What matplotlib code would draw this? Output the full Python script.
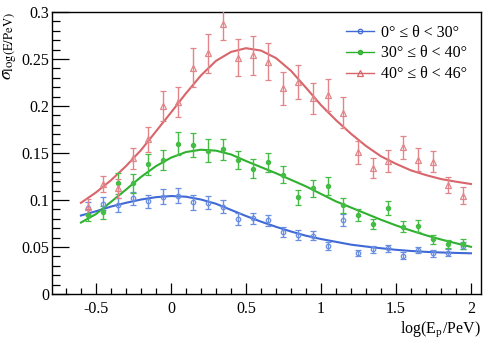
import numpy as np
import matplotlib
matplotlib.use("Agg")
import matplotlib.pyplot as plt
from matplotlib.ticker import MultipleLocator, FixedLocator

plt.rcParams['font.family'] = ['Liberation Serif', 'DejaVu Serif']
plt.rcParams['mathtext.fontset'] = 'stix'
plt.rcParams['axes.unicode_minus'] = False

# ---- data ----
x_pts = [-0.55, -0.45, -0.35, -0.25, -0.15, -0.05, 0.05, 0.15, 0.25, 0.35,
         0.45, 0.55, 0.65, 0.75, 0.85, 0.95, 1.05, 1.15, 1.25, 1.35,
         1.45, 1.55, 1.65, 1.75, 1.85, 1.95]

blue_y = [0.091, 0.096, 0.0947, 0.102, 0.0985, 0.1035, 0.1043, 0.0975, 0.0972, 0.093,
          0.0798, 0.0805, 0.0783, 0.066, 0.0626, 0.0622, 0.0514, 0.0787, 0.0433, 0.0475,
          0.0486, 0.0408, 0.0468, 0.0433, 0.044, 0.0514]
blue_err = [0.007, 0.007, 0.007, 0.007, 0.007, 0.008, 0.008, 0.008, 0.007, 0.007,
            0.006, 0.006, 0.006, 0.0053, 0.005, 0.005, 0.0044, 0.0062, 0.003, 0.0035,
            0.0035, 0.0035, 0.0035, 0.0035, 0.0035, 0.0035]

green_y = [0.084, 0.0869, 0.1177, 0.1177, 0.138, 0.1426, 0.160, 0.1585, 0.1525, 0.154,
           0.1426, 0.1333, 0.140, 0.127, 0.1028, 0.1124, 0.1149, 0.0943, 0.084, 0.0745,
           0.0918, 0.0716, 0.0723, 0.0582, 0.0532, 0.0532]
green_err = [0.006, 0.007, 0.011, 0.0098, 0.011, 0.0106, 0.0124, 0.0128, 0.012, 0.011,
             0.010, 0.010, 0.010, 0.009, 0.0083, 0.009, 0.0094, 0.0076, 0.0067, 0.0055,
             0.0075, 0.006, 0.006, 0.0048, 0.0045, 0.005]

red_y = [0.093, 0.117, 0.1124, 0.1443, 0.1645, 0.2004, 0.2046, 0.2408, 0.256, 0.287,
         0.2514, 0.254, 0.247, 0.2188, 0.2259, 0.208, 0.2117, 0.193, 0.1507, 0.1337,
         0.1415, 0.156, 0.143, 0.1408, 0.116, 0.1046]
red_err = [0.008, 0.009, 0.010, 0.0115, 0.013, 0.016, 0.016, 0.021, 0.021, 0.017,
           0.0197, 0.0207, 0.0195, 0.0174, 0.018, 0.016, 0.017, 0.0165, 0.0124, 0.0106,
           0.012, 0.012, 0.012, 0.0115, 0.009, 0.009]

# fit curves
x_fit = [-0.6, -0.5, -0.4, -0.3, -0.2, -0.1, 0.0, 0.1, 0.2, 0.3, 0.4, 0.5, 0.6,
         0.7, 0.8, 0.9, 1.0, 1.1, 1.2, 1.3, 1.4, 1.5, 1.6, 1.7, 1.8, 1.9, 2.0]
blue_fit = [0.0835, 0.088, 0.093, 0.097, 0.1005, 0.103, 0.1042, 0.1035, 0.1005, 0.096,
            0.0895, 0.083, 0.077, 0.0715, 0.0665, 0.062, 0.0585, 0.0555, 0.0525, 0.0505,
            0.0487, 0.047, 0.0458, 0.0448, 0.0442, 0.0437, 0.0433]
green_fit = [0.076, 0.085, 0.098, 0.111, 0.1245, 0.136, 0.145, 0.151, 0.1535, 0.1525,
             0.1485, 0.1415, 0.135, 0.1285, 0.1215, 0.1145, 0.1065, 0.0985, 0.092, 0.0855,
             0.079, 0.073, 0.0675, 0.0625, 0.058, 0.054, 0.0502]
red_fit = [0.097, 0.108, 0.121, 0.136, 0.153, 0.173, 0.193, 0.2135, 0.2325, 0.248,
           0.2575, 0.2615, 0.259, 0.251, 0.2375, 0.2195, 0.201, 0.185, 0.1705, 0.1575,
           0.1465, 0.1385, 0.1315, 0.1265, 0.1223, 0.1195, 0.117]

labels = ['0° ≤ θ < 30°', '30° ≤ θ < 40°', '40° ≤ θ < 46°']
x_ticks = [-0.5, 0, 0.5, 1, 1.5, 2]
x_ticklabels = ['-0.5', '0', '0.5', '1', '1.5', '2']
y_ticks = [0, 0.05, 0.1, 0.15, 0.2, 0.25, 0.3]
y_ticklabels = ['0', '0.05', '0.1', '0.15', '0.2', '0.25', '0.3']

# ---- plot ----
fig = plt.figure(figsize=(4.98, 3.38), dpi=100)
ax = fig.add_axes([52/498, 44/338, (481-52)/498, (294-12)/338])

series = [
    (blue_y, blue_err, blue_fit, '#3f69d6', '#6a8ee0', 'o', 'none', 3.2),
    (green_y, green_err, green_fit, '#2fb12f', '#45bd45', 'o', 'full', 3.0),
    (red_y, red_err, red_fit, '#d8656a', '#e2858a', '^', 'none', 4.0),
]

handles = []
for (yv, ev, fv, lc, pc, mk, fill, ms), lab in zip(series, labels):
    ax.plot(x_fit, fv, color=lc, lw=1.5, zorder=3)
    mfc = 'none' if fill == 'none' else pc
    ax.errorbar(x_pts, yv, yerr=ev, fmt=mk, ms=ms, mfc=mfc, mec=pc, mew=0.9,
                ecolor=pc, elinewidth=1.0, capsize=2.0, capthick=1.0, zorder=4)
    h, = ax.plot([], [], color=lc, lw=1.0, marker=mk, ms=ms, mfc=mfc, mec=lc, mew=0.9)
    handles.append(h)

ax.set_xlim(-0.793, 2.067)
ax.set_ylim(0, 0.3)
ax.xaxis.set_major_locator(FixedLocator(x_ticks))
ax.set_xticklabels(x_ticklabels)
ax.yaxis.set_major_locator(FixedLocator(y_ticks))
ax.set_yticklabels(y_ticklabels)
ax.xaxis.set_minor_locator(MultipleLocator(0.1))
ax.yaxis.set_minor_locator(MultipleLocator(0.01))
ax.tick_params(axis='both', which='both', direction='in', top=False, right=False,
               labelsize=11.5, width=0.9, color='black')
ax.tick_params(axis='x', which='major', length=8, pad=5)
ax.tick_params(axis='x', which='minor', length=4)
ax.tick_params(axis='y', which='major', length=12, pad=2)
ax.tick_params(axis='y', which='minor', length=6)
for s in ax.spines.values():
    s.set_linewidth(1.0)

ax.set_xlabel(r'log(E$_\mathregular{p}$/PeV)', fontsize=11.5, loc='right', labelpad=2)
ax.set_ylabel(r'$\sigma_{\mathrm{log(E/PeV)}}$', fontsize=13, loc='top', labelpad=2)

ax.legend(handles, labels, loc='upper left', bbox_to_anchor=(0.685, 0.955),
          frameon=False, fontsize=11.5, handlelength=1.75, handletextpad=0.45,
          labelspacing=0.3, borderpad=0, borderaxespad=0)

fig.savefig('out.png', dpi=100)
